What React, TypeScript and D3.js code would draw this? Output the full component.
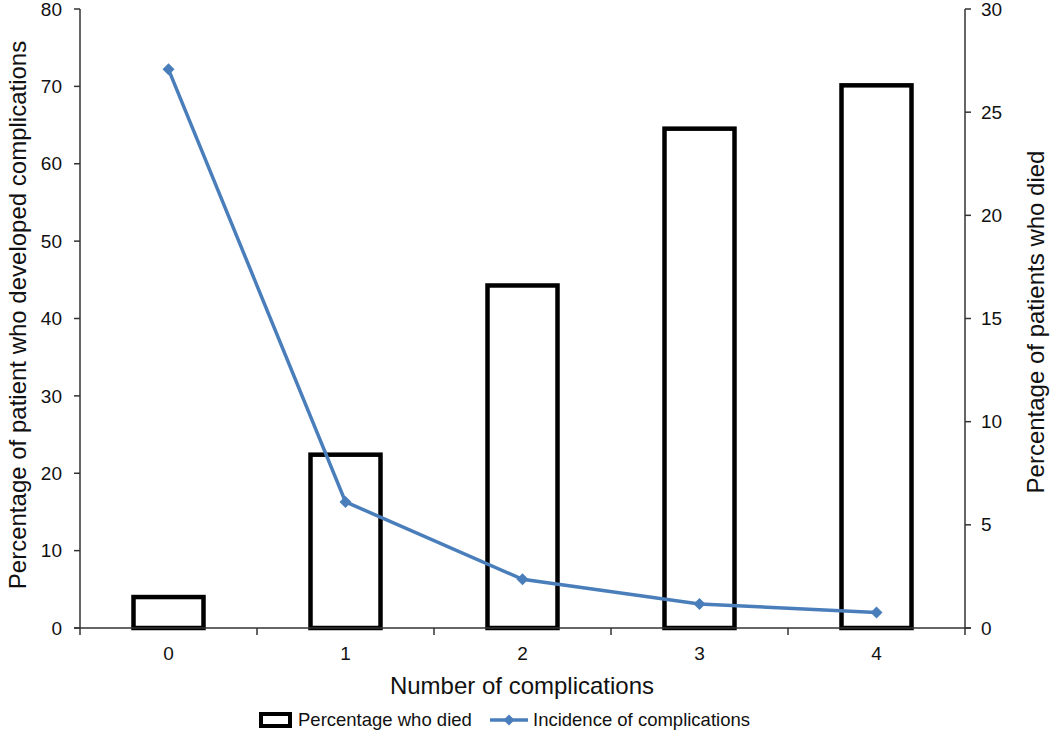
import React from "react";
import * as d3 from "d3";

const categories = ["0", "1", "2", "3", "4"];
const diedPct = [1.5, 8.4, 16.6, 24.2, 26.3];
const complicationsPct = [72.2, 16.3, 6.3, 3.1, 2.0];
const leftTicks = [0, 10, 20, 30, 40, 50, 60, 70, 80];
const rightTicks = [0, 5, 10, 15, 20, 25, 30];

const FONT = "'Liberation Sans', Arial, Helvetica, sans-serif";
const BLUE = "#4a7ebb";

export default function App() {
  const W = 1050, H = 736;
  const x0 = 80, x1 = 965, yTop = 9, yBot = 628;
  const band = d3.scaleBand().domain(categories).range([x0, x1]);
  const yL = d3.scaleLinear().domain([0, 80]).range([yBot, yTop]);
  const yR = d3.scaleLinear().domain([0, 30]).range([yBot, yTop]);
  const cx = (i: number) => (band(categories[i]) as number) + band.bandwidth() / 2;
  const line = d3.line<number>()
    .x((_, i) => cx(i))
    .y((d) => yL(d));
  const diamond = (x: number, y: number, r: number) =>
    `M${x},${y - r}L${x + r},${y}L${x},${y + r}L${x - r},${y}Z`;
  const boundaries = [...categories.map((c) => band(c) as number), x1];

  return (
    <svg width={W} height={H} style={{ position: "absolute", left: 0, top: 0, background: "#fff" }} fontFamily={FONT}>
      {/* bars */}
      {diedPct.map((v, i) => (
        <rect key={i} x={cx(i) - 35} y={yR(v)} width={70}
          height={yBot - yR(v)} fill="#fff" stroke="#000" strokeWidth={4.5} />
      ))}
      {/* axes */}
      <line x1={x0} x2={x0} y1={yTop} y2={yBot} stroke="#333" strokeWidth={1.5} />
      <line x1={x1} x2={x1} y1={yTop} y2={yBot} stroke="#333" strokeWidth={1.5} />
      <line x1={x0 - 6} x2={x1 + 6} y1={yBot} y2={yBot} stroke="#333" strokeWidth={1.5} />
      {leftTicks.map((t) => (
        <g key={"l" + t}>
          <line x1={x0 - 6} x2={x0} y1={yL(t)} y2={yL(t)} stroke="#333" strokeWidth={1.5} />
          <text x={x0 - 18} y={yL(t)} dy="0.35em" textAnchor="end" fontSize={19} fill="#111">{t}</text>
        </g>
      ))}
      {rightTicks.map((t) => (
        <g key={"r" + t}>
          <line x1={x1} x2={x1 + 6} y1={yR(t)} y2={yR(t)} stroke="#333" strokeWidth={1.5} />
          <text x={x1 + 16} y={yR(t)} dy="0.35em" textAnchor="start" fontSize={19} fill="#111">{t}</text>
        </g>
      ))}
      {boundaries.map((b, i) => (
        <line key={"b" + i} x1={b} x2={b} y1={yBot} y2={yBot + 7} stroke="#333" strokeWidth={1.5} />
      ))}
      {categories.map((c, i) => (
        <text key={"c" + c} x={cx(i)} y={653} dy="0.35em" textAnchor="middle" fontSize={19} fill="#111">{c}</text>
      ))}
      {/* line */}
      <path d={line(complicationsPct) || ""} fill="none" stroke={BLUE} strokeWidth={3.5} />
      {complicationsPct.map((v, i) => (
        <path key={"m" + i} d={diamond(cx(i), yL(v), 6)} fill={BLUE} />
      ))}
      {/* titles */}
      <text x={522} y={686} dy="0.35em" textAnchor="middle" fontSize={24} fill="#111">Number of complications</text>
      <text transform="translate(18,315) rotate(-90)" dy="0.35em" textAnchor="middle" fontSize={24} fill="#111">Percentage of patient who developed complications</text>
      <text transform="translate(1036,322) rotate(-90)" dy="0.35em" textAnchor="middle" fontSize={24} fill="#111">Percentage of patients who died</text>
      {/* legend */}
      <rect x={261} y={714} width={29} height={12} fill="#fff" stroke="#000" strokeWidth={4} />
      <text x={298} y={720} dy="0.35em" fontSize={18.5} fill="#111">Percentage who died</text>
      <line x1={490} x2={528} y1={720} y2={720} stroke={BLUE} strokeWidth={3.5} />
      <path d={diamond(509, 720, 5.5)} fill={BLUE} />
      <text x={533} y={720} dy="0.35em" fontSize={18.5} fill="#111">Incidence of complications</text>
    </svg>
  );
}
